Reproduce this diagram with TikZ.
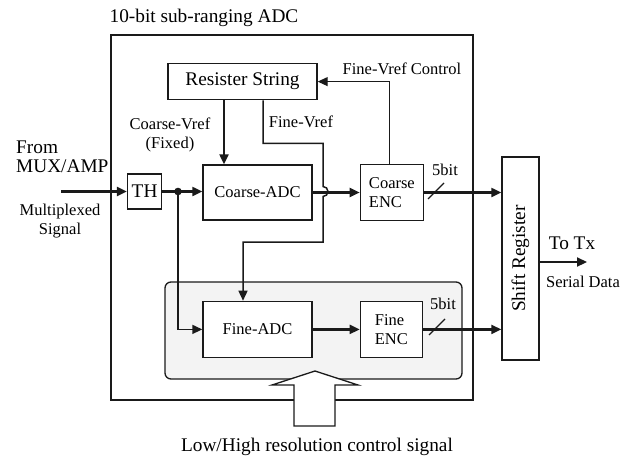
\documentclass[tikz,border=0pt]{standalone}
\usepackage{fontspec}
\setmainfont{Liberation Serif}
\usepackage{tikz}
\usetikzlibrary{arrows.meta,positioning,calc}
\definecolor{adcpanel}{HTML}{F3F3F3}
\definecolor{adcline}{HTML}{1A1A1A}
\newcommand{\bigtxt}{\fontsize{19.3}{19.5}\selectfont}
\newcommand{\midtxt}{\fontsize{16.5}{18.5}\selectfont}
\tikzset{
  block/.style={rectangle, draw=adcline, line width=1.4pt, fill=white,
                align=center, inner sep=0pt, font=\midtxt},
  arrow/.style={-{Triangle[length=10pt,width=9pt]}, line width=2.2pt, color=adcline},
  wire/.style={line width=1.2pt, color=adcline},
  note/.style={align=center, inner sep=0pt, font=\midtxt},
}

\begin{document}
\begin{tikzpicture}[x=1pt,y=-1pt]
\useasboundingbox (0,0) rectangle (634,463);

\draw[adcline, line width=1.4pt] (111,35) rectangle (473,400);
\draw[adcline, line width=1.3pt, fill=adcpanel, rounded corners=6pt] (165,282) rectangle (462,379);

\node[block, minimum width=109pt, minimum height=55pt] (cadc) at (257.5,192.5) {Coarse-ADC};
\node[block, minimum width=149pt, minimum height=36pt, font=\bigtxt, above=64pt of cadc, xshift=-15pt] (rs) {Resister String};
\node[block, minimum width=34pt, minimum height=35pt, font=\bigtxt, left=40pt of cadc, yshift=1pt] (th) {TH};
\node[block, minimum width=63pt, minimum height=56pt, align=left, right=47pt of cadc] (cenc) {Coarse\\ENC};
\node[block, minimum width=109pt, minimum height=56pt, below=80pt of cadc] (fadc) {Fine-ADC};
\node[block, minimum width=62pt, minimum height=56pt, align=left, right=47pt of fadc] (fenc) {Fine\\ENC};
\node[block, minimum width=37pt, minimum height=203pt] (sr) at (520.5,258.5)
  {}; \node[rotate=90, font=\bigtxt, inner sep=0pt] (srtxt) at (sr.center) {Shift Register};

\coordinate (src) at (61,191.5);
\coordinate (split) at (178,191.5);
\coordinate (tx) at (587,262);

\draw[arrow] (src) -- (th.west);
\draw[arrow] (th.east) -- (th.east -| cadc.west);
\fill[adcline] (split) circle[radius=3.8pt];
\draw[line width=1.5pt, adcline, -{Triangle[length=10pt,width=9pt]}] (split) |- (fadc.west);

\draw[arrow] ([xshift=-18.5pt]rs.south) -- ([xshift=-18.5pt]rs.south |- cadc.north);
\draw[line width=1.5pt, adcline, -{Triangle[length=10pt,width=9pt]}]
  ([xshift=20.5pt]rs.south) -- ++(0,43) -| (323,186.5) arc[start angle=90, end angle=-90, radius=5pt]
  -- (323,242) -| ([xshift=-14.5pt]fadc.north);
\draw[wire, -{Triangle[length=10pt,width=9pt]}] ([xshift=-2.5pt]cenc.north) |- (rs.east);

\draw[arrow] (cadc.east) -- (cadc.east -| cenc.west);
\draw[arrow] (fadc.east) -- (fenc.west);
\draw[arrow] (cenc.east) -- (cenc.east -| sr.west);
\draw[arrow] (fenc.east) -- (fenc.east -| sr.west);
\draw[arrow] (sr.east |- tx) -- (tx);

\draw[wire] (428,199) -- (444,183);
\draw[wire] (429,335) -- (445,319);

\draw[adcline, line width=1.3pt, fill=white] (294,426) -- (294,385) -- (272,385) -- (315,371)
  -- (358,385) -- (335,385) -- (335,426) -- cycle;

\node[note, font=\bigtxt] (title) at (204,18) {10-bit sub-ranging ADC};
\node[note] (cvref) at (170,135) {Coarse-Vref\\(Fixed)};
\node[note] (fvref) at (301,122) {Fine-Vref};
\node[note] (fvctl) at (402,69) {Fine-Vref Control};
\node[note, font=\bigtxt, align=left, anchor=west] (from) at (16,157) {From\\MUX/AMP};
\node[note] (mux) at (60,221) {Multiplexed\\Signal};
\node[note] (cbits) at (445,170) {5bit};
\node[note] (fbits) at (443,304) {5bit};
\node[note, font=\bigtxt] (totx) at (572,243) {To Tx};
\node[note] (serial) at (583,282) {Serial Data};
\node[note, font=\bigtxt] (ctrl) at (317,447) {Low/High resolution control signal};
\end{tikzpicture}
\end{document}
